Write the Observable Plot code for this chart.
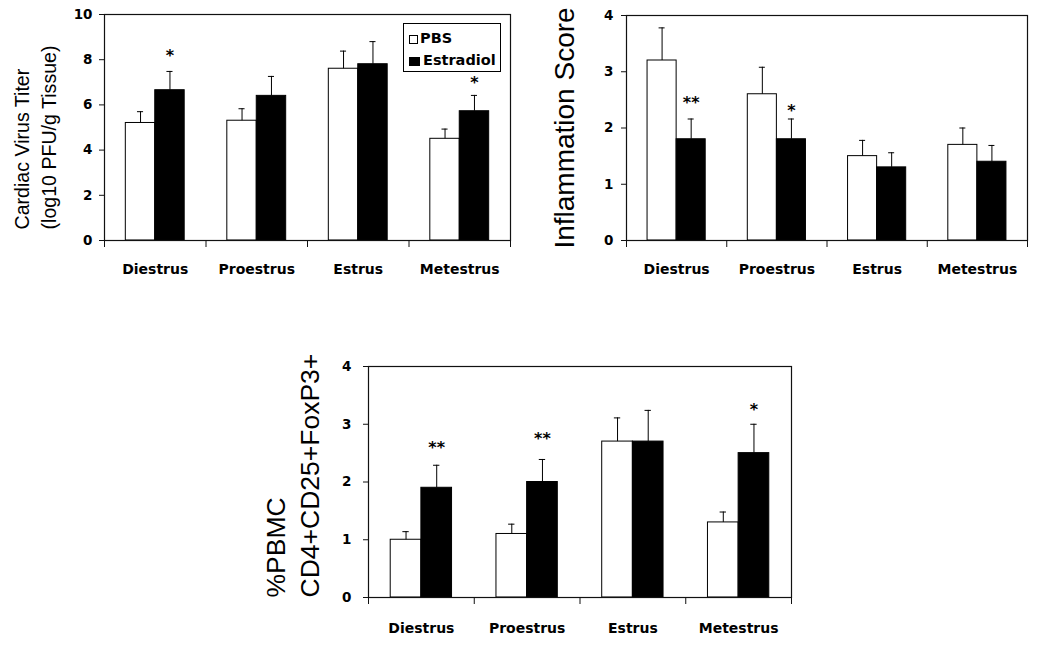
<!DOCTYPE html>
<html><head><meta charset="utf-8">
<script src="https://cdn.jsdelivr.net/npm/d3@7"></script>
<script src="https://cdn.jsdelivr.net/npm/@observablehq/plot@0.6"></script>
<style>
body{margin:0;background:#fff;}
#wrap{position:relative;width:1050px;height:645px;overflow:hidden;background:#fff;}
.panel{position:absolute;}
.lg{position:absolute;box-sizing:border-box;}
.lgt{position:absolute;font-family:"DejaVu Sans";font-weight:bold;font-size:14.5px;line-height:1;color:#000;white-space:nowrap;}
</style></head>
<body><div id="wrap"></div>
<script>
// ---- data ----
const phases = ["Diestrus", "Proestrus", "Estrus", "Metestrus"];
const groups = ["PBS", "Estradiol"];

// Panel A: cardiac virus titer
const titerPBS = [5.2, 5.3, 7.6, 4.5];
const titerPBSErr = [0.5, 0.53, 0.78, 0.43];
const titerE2 = [6.65, 6.4, 7.8, 5.72];
const titerE2Err = [0.83, 0.86, 1.0, 0.7];
const titerStar = ["*", "", "", "*"];
const titerStarY = [8.3, null, null, 7.1];
const titerTicks = [0, 2, 4, 6, 8, 10];

// Panel B: inflammation score
const inflPBS = [3.2, 2.6, 1.5, 1.7];
const inflPBSErr = [0.58, 0.48, 0.28, 0.3];
const inflE2 = [1.8, 1.8, 1.3, 1.4];
const inflE2Err = [0.36, 0.36, 0.26, 0.29];
const inflStar = ["**", "*", "", ""];
const inflStarY = [2.5, 2.35, null, null];
const inflTicks = [0, 1, 2, 3, 4];

// Panel C: %PBMC CD4+CD25+FoxP3+
const tregPBS = [1.0, 1.1, 2.7, 1.3];
const tregPBSErr = [0.14, 0.17, 0.41, 0.18];
const tregE2 = [1.9, 2.0, 2.7, 2.5];
const tregE2Err = [0.39, 0.39, 0.54, 0.5];
const tregStar = ["**", "**", "", "*"];
const tregStarY = [2.65, 2.8, null, 3.3];
const tregTicks = [0, 1, 2, 3, 4];

// ---- chart builder ----
const BAR = 0.29;   // bar width in category units
const CAP = 0.03;   // error cap half width in category units

function buildRows(pbs, pbsErr, e2, e2Err, star, starY) {
  const rows = [];
  phases.forEach((p, i) => {
    rows.push({phase: p, i, group: groups[0], value: pbs[i], err: pbsErr[i], star: "", starY: null,
      x1: i + 0.5 - BAR, x2: i + 0.5, xc: i + 0.5 - BAR / 2});
    rows.push({phase: p, i, group: groups[1], value: e2[i], err: e2Err[i], star: star[i], starY: starY[i],
      x1: i + 0.5, x2: i + 0.5 + BAR, xc: i + 0.5 + BAR / 2});
  });
  return rows;
}

function panel(o) {
  const rows = buildRows(o.pbs, o.pbsErr, o.e2, o.e2Err, o.star, o.starY);
  return Plot.plot({
    width: o.width, height: o.height,
    marginLeft: o.ml, marginRight: o.mr, marginTop: o.mt, marginBottom: o.mb,
    x: {type: "linear", domain: [0, phases.length]},
    y: {domain: [0, o.yMax]},
    color: {domain: groups, range: ["#ffffff", "#000000"]},
    style: {fontFamily: "DejaVu Sans", color: "#111", background: "transparent", overflow: "visible"},
    marks: [
      Plot.rect(rows, {x1: "x1", x2: "x2", y1: 0, y2: "value", fill: "group", stroke: "#000", strokeWidth: 1}),
      Plot.ruleX(rows, {x: "xc", y1: "value", y2: d => d.value + d.err, stroke: "#000", strokeWidth: 1}),
      Plot.ruleY(rows, {y: d => d.value + d.err, x1: d => d.xc - CAP, x2: d => d.xc + CAP, stroke: "#000", strokeWidth: 1}),
      Plot.text(rows.filter(d => d.star), {x: "xc", y: "starY", text: "star", fontSize: 16, fontWeight: "bold", lineAnchor: "middle", dy: 3, fill: "#000"}),
      Plot.frame({stroke: "#111", strokeWidth: 1.2}),
      Plot.axisY({ticks: o.yTicks, tickSize: 5, tickPadding: o.tickPad, fontSize: 13.5, fontWeight: "bold", fill: "#000", label: null, tickFormat: d => String(d)}),
      Plot.axisX({ticks: d3.range(phases.length + 1), tickSize: 7, tickFormat: () => "", label: null}),
      Plot.text(phases, {x: (d, i) => i + 0.5, text: d => d, frameAnchor: "bottom", lineAnchor: "bottom", dy: o.catDy, fontSize: 14, fontWeight: "bold", fill: "#000"}),
      Plot.text([o.title], {text: d => d, frameAnchor: o.titleFrame, rotate: -90, textAnchor: o.titleAnchor, lineAnchor: "bottom",
        dx: o.titleDx, dy: o.titleDy, fontSize: o.titleSize, lineHeight: o.titleLH, fontFamily: "Liberation Sans", fontWeight: "normal", fill: "#000"})
    ]
  });
}

const wrap = document.getElementById("wrap");
function place(node, left, top) {
  node.classList.add("panel");
  node.style.left = left + "px";
  node.style.top = top + "px";
  wrap.appendChild(node);
}

place(panel({
  pbs: titerPBS, pbsErr: titerPBSErr, e2: titerE2, e2Err: titerE2Err, star: titerStar, starY: titerStarY,
  yMax: 10, yTicks: titerTicks, width: 520, height: 290, ml: 104, mr: 10, mt: 14, mb: 50, tickPad: 7, catDy: 33,
  title: "Cardiac Virus Titer\n(log10 PFU/g Tissue)", titleFrame: "bottom-left", titleAnchor: "start",
  titleDx: -49, titleDy: -11, titleSize: 19.6, titleLH: 1.36
}), 0, 0);

place(panel({
  pbs: inflPBS, pbsErr: inflPBSErr, e2: inflE2, e2Err: inflE2Err, star: inflStar, starY: inflStarY,
  yMax: 4, yTicks: inflTicks, width: 530, height: 290, ml: 106, mr: 23, mt: 15, mb: 50, tickPad: 8, catDy: 33,
  title: "Inflammation Score", titleFrame: "left", titleAnchor: "middle",
  titleDx: -53, titleDy: 0, titleSize: 28, titleLH: 1
}), 520, 0);

place(panel({
  pbs: tregPBS, pbsErr: tregPBSErr, e2: tregE2, e2Err: tregE2Err, star: tregStar, starY: tregStarY,
  yMax: 4, yTicks: tregTicks, width: 570, height: 325, ml: 128, mr: 19, mt: 46, mb: 48, tickPad: 12, catDy: 35,
  title: "%PBMC\nCD4+CD25+FoxP3+", titleFrame: "bottom-left", titleAnchor: "start",
  titleDx: -50, titleDy: 0, titleSize: 26.5, titleLH: 1.25
}), 240, 320);

// ---- legend (panel A) ----
function div(cls, css, text) {
  const d = document.createElement("div");
  d.className = cls;
  Object.assign(d.style, css);
  if (text) d.textContent = text;
  wrap.appendChild(d);
  return d;
}
div("lg", {left: "403px", top: "23px", width: "98px", height: "49px", border: "1.5px solid #000", background: "#fff"});
div("lg", {left: "409px", top: "35px", width: "9px", height: "9px", border: "1px solid #000", background: "#fff"});
div("lgt", {left: "420px", top: "31px"}, groups[0]);
div("lg", {left: "409px", top: "57px", width: "11px", height: "9px", background: "#000"});
div("lgt", {left: "423px", top: "52.7px"}, groups[1]);
</script>
</body></html>
